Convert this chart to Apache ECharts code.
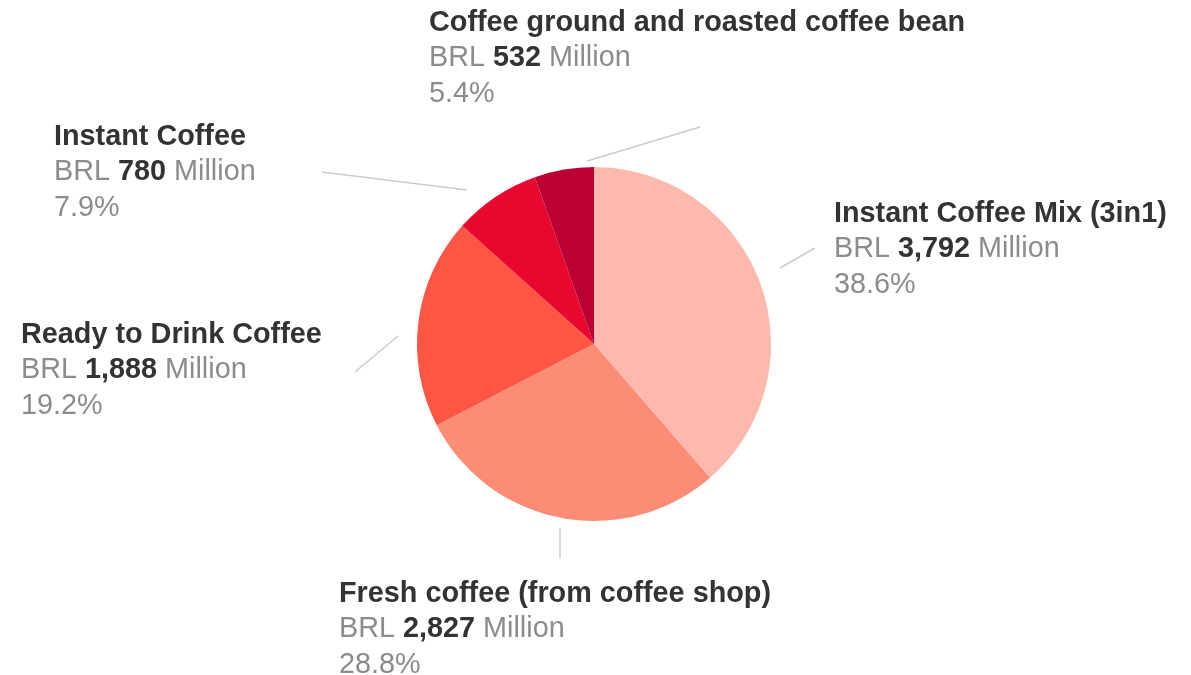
<!DOCTYPE html>
<html>
<head>
<meta charset="utf-8">
<script src="https://cdn.jsdelivr.net/npm/echarts@6/dist/echarts.min.js"></script>
<style>
  html, body { margin: 0; padding: 0; background: #ffffff; }
  #chart { width: 1191px; height: 675px; }
</style>
</head>
<body>
<div id="chart"></div>
<script>
// Brazil coffee market by segment (BRL million)
const categories = [
  'Instant Coffee Mix (3in1)',
  'Fresh coffee (from coffee shop)',
  'Ready to Drink Coffee',
  'Instant Coffee',
  'Coffee ground and roasted coffee bean'
];
const valuesBRL = [3792, 2827, 1888, 780, 532];
const sliceColors = ['#FDB9AE', '#FD8C76', '#FE5645', '#E8082F', '#BB0033'];

// Label placement: top-left corner of each text block and its connector line
const labelBoxes = [
  { x: 834, y: 196 },
  { x: 339, y: 576 },
  { x: 21,  y: 317 },
  { x: 54,  y: 119 },
  { x: 429, y: 5 }
];
const connectors = [
  [[780, 268], [815, 248]],
  [[560, 528], [560, 558]],
  [[398, 336], [355, 372]],
  [[467, 190], [322, 172]],
  [[587, 161], [700, 127]]
];

const total = valuesBRL.reduce((a, b) => a + b, 0);
const fmt = n => n.toLocaleString('en-US');
const FONT = '"Liberation Sans", Arial, Helvetica, sans-serif';

const chart = echarts.init(document.getElementById('chart'), null, { renderer: 'canvas' });

chart.setOption({
  backgroundColor: '#ffffff',
  animation: false,
  series: [{
    type: 'pie',
    center: [594, 344],
    radius: 177,
    startAngle: 90,
    clockwise: true,
    avoidLabelOverlap: false,
    itemStyle: { borderWidth: 0 },
    data: categories.map((name, i) => ({
      name,
      value: valuesBRL[i],
      itemStyle: { color: sliceColors[i] }
    })),
    label: {
      show: true,
      position: 'outside',
      fontFamily: FONT,
      formatter: p => {
        const pct = (p.value / total * 100).toFixed(1) + '%';
        return '{t|' + p.name + '}\n{g|BRL }{v|' + fmt(p.value) + '}{g| Million}\n{g|' + pct + '}';
      },
      rich: {
        t: { fontSize: 28.8, fontWeight: 'bold', color: '#333333', lineHeight: 35.5, fontFamily: FONT },
        v: { fontSize: 28.8, fontWeight: 'bold', color: '#333333', lineHeight: 35.5, fontFamily: FONT },
        g: { fontSize: 28.8, color: '#8c8c8c', lineHeight: 35.5, fontFamily: FONT }
      }
    },
    labelLine: {
      show: true,
      lineStyle: { color: '#cccccc', width: 1.5 }
    },
    labelLayout: params => {
      const i = params.dataIndex;
      const seg = connectors[i];
      return {
        x: labelBoxes[i].x,
        y: labelBoxes[i].y,
        align: 'left',
        verticalAlign: 'top',
        labelLinePoints: [seg[0], seg[1], seg[1]]
      };
    },
    emphasis: { disabled: true }
  }]
});
</script>
</body>
</html>
